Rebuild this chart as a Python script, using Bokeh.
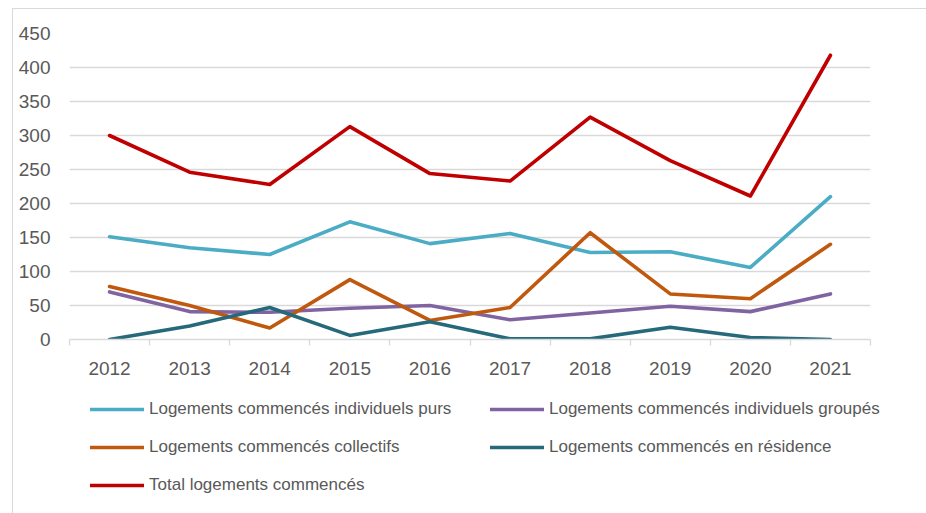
from bokeh.plotting import figure
from bokeh.layouts import column
from bokeh.models import Range1d, FixedTicker, Legend, LegendItem
from bokeh.embed import file_html
from bokeh.resources import INLINE

# ---- data ----
years = [2012, 2013, 2014, 2015, 2016, 2017, 2018, 2019, 2020, 2021]
individuels_purs = [151, 135, 125, 173, 141, 156, 128, 129, 106, 210]
individuels_groupes = [70, 41, 40, 46, 50, 29, 39, 49, 41, 67]
collectifs = [78, 50, 17, 88, 28, 47, 157, 67, 60, 140]
en_residence = [0, 20, 47, 6, 26, 1, 1, 18, 3, 0]
total = [300, 246, 228, 313, 244, 233, 327, 263, 211, 418]
y_ticks = [0, 50, 100, 150, 200, 250, 300, 350, 400, 450]

series_labels = [
    "Logements commencés individuels purs",
    "Logements commencés individuels groupés",
    "Logements commencés collectifs",
    "Logements commencés en résidence",
    "Total logements commencés",
]
series_values = [individuels_purs, individuels_groupes, collectifs, en_residence, total]
series_colors = ["#4BACC6", "#8064A2", "#C0590E", "#25697A", "#C00000"]

GRID = "#D9D9D9"
TXT = "#595959"
FONT = "Liberation Sans"
LW = 3.6

W = 913
p = figure(
    width=W, height=380,
    output_backend="svg", toolbar_location=None,
    x_range=Range1d(years[0] - 0.5, years[-1] + 0.5),
    y_range=Range1d(y_ticks[0], y_ticks[-1]),
    min_border_left=56, min_border_right=56, min_border_top=24, min_border_bottom=50,
)
p.outline_line_color = None
p.background_fill_color = "white"
p.border_fill_color = "white"

# x axis: labels at years, tick marks between categories
p.xaxis.ticker = FixedTicker(ticks=years, minor_ticks=[y - 0.5 for y in years] + [years[-1] + 0.5])
p.xaxis.major_tick_in = 0
p.xaxis.major_tick_out = 0
p.xaxis.minor_tick_in = 0
p.xaxis.minor_tick_out = 6
p.xaxis.minor_tick_line_color = GRID
p.xaxis.minor_tick_line_width = 1.3
p.xaxis.axis_line_color = GRID
p.xaxis.axis_line_width = 1.3
p.xaxis.major_label_text_font = FONT
p.xaxis.major_label_text_font_size = "19px"
p.xaxis.major_label_text_color = TXT
p.xaxis.major_label_standoff = 16

# y axis
p.yaxis.ticker = FixedTicker(ticks=y_ticks)
p.yaxis.axis_line_color = None
p.yaxis.major_tick_line_color = None
p.yaxis.minor_tick_line_color = None
p.yaxis.major_label_text_font = FONT
p.yaxis.major_label_text_font_size = "19px"
p.yaxis.major_label_text_color = TXT
p.yaxis.major_label_standoff = 13

p.xgrid.visible = False
p.ygrid.ticker = FixedTicker(ticks=y_ticks)
p.ygrid.grid_line_color = GRID
p.ygrid.grid_line_width = 1.3

for vals, col in zip(series_values, series_colors):
    p.line(years, vals, line_color=col, line_width=LW, line_cap="round", line_join="round")

# ---- legend panel (separate figure below the chart) ----
H2 = 124
lg = figure(
    frame_width=W, frame_height=H2, output_backend="svg", toolbar_location=None,
    x_range=Range1d(0, 1), y_range=Range1d(0, 1),
    x_axis_location=None, y_axis_location=None,
    min_border=0,
)
lg.outline_line_color = None
lg.grid.visible = False
lg.background_fill_color = "white"
lg.border_fill_color = "white"

nan = float("nan")
items = []
for lab, col in zip(series_labels, series_colors):
    r = lg.line(x=[nan], y=[nan], line_color=col, line_width=LW, line_cap="round")
    items.append(LegendItem(label=lab, renderers=[r]))

legend = Legend(
    items=items, orientation="horizontal", ncols=2, location=(77, 18),
    glyph_width=54, glyph_height=20, label_standoff=5, label_width=323, label_height=20,
    spacing=18, padding=0, margin=0,
    border_line_color=None, background_fill_alpha=0,
    label_text_font=FONT, label_text_font_size="17px", label_text_color=TXT,
)
lg.add_layout(legend, "center")

layout = column(p, lg, spacing=0,
                styles={"margin-left": "12px", "margin-top": "8px",
                        "border-left": "1px solid #D9D9D9", "border-top": "1px solid #D9D9D9"})

open("out.html", "w").write(file_html(layout, INLINE))
